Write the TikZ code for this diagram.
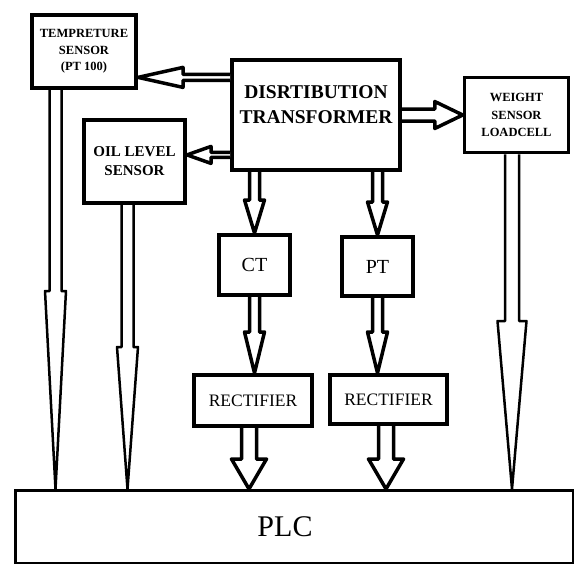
\documentclass[tikz,border=0pt]{standalone}
\usepackage{fontspec}
\setmainfont{Liberation Serif}
\usetikzlibrary{calc}

\tikzset{
  box/.style={draw, line width=4pt, inner sep=0pt, align=center},
  hollow/.style n args={4}{draw, fill=white, line width=#4, line join=round,
    to path={($(\tikztostart)!#1!90:(\tikztotarget)$)
      -- ($(\tikztotarget)!#3!(\tikztostart)!#1!90:(\tikztotarget)$)
      -- ($(\tikztotarget)!#3!(\tikztostart)!#2!90:(\tikztotarget)$)
      -- (\tikztotarget)
      -- ($(\tikztotarget)!#3!(\tikztostart)!#2!-90:(\tikztotarget)$)
      -- ($(\tikztotarget)!#3!(\tikztostart)!#1!-90:(\tikztotarget)$)
      -- ($(\tikztostart)!#1!-90:(\tikztotarget)$)}},
}

\begin{document}
\begin{tikzpicture}[x=1pt, y=-1pt]
\useasboundingbox (0,0) rectangle (576,565);
\node[box, minimum width=104pt, minimum height=73pt, font=\bfseries\fontsize{12.5}{16.5}\selectfont]
  (temp) at (84,51.5) {TEMPRETURE\\SENSOR\\(PT 100)};
\node[box, minimum width=168pt, minimum height=110pt,
  label={[yshift=10.5pt, align=center, font=\bfseries\fontsize{19.5}{25}\selectfont]center:DISRTIBUTION\\TRANSFORMER}]
  (dt) at (316,115) {};
\node[box, minimum width=101pt, minimum height=83pt, font=\bfseries\fontsize{15}{19}\selectfont]
  (oil) at (134.5,161.5) {OIL LEVEL\\SENSOR};
\node[box, line width=3.5pt, minimum width=104pt, minimum height=75pt, font=\bfseries\fontsize{12.5}{17.5}\selectfont]
  (weight) at (516.5,115) {WEIGHT\\SENSOR\\LOADCELL};
\node[box, minimum width=71pt, minimum height=60pt, font=\fontsize{20}{22}\selectfont]
  (ct) at (254.5,265) {CT};
\node[box, minimum width=71pt, minimum height=59pt, font=\fontsize{20}{22}\selectfont]
  (pt) at (377.5,266.5) {PT};
\node[box, minimum width=118pt, minimum height=51pt, font=\fontsize{17.5}{20}\selectfont]
  (rect1) at (253,400.5) {RECTIFIER};
\node[box, minimum width=117pt, minimum height=49pt, font=\fontsize{17.5}{20}\selectfont]
  (rect2) at (388.5,399.5) {RECTIFIER};
\node[box, line width=2.5pt, minimum width=557.5pt, minimum height=72.5pt,
  label={[xshift=-9pt, font=\fontsize{30}{34}\selectfont]center:PLC}]
  (plc) at (294,526.5) {};

\coordinate (d1) at ($(dt.north west)!0.17!(dt.south west)$);
\coordinate (d2) at ($(dt.north west)!0.85!(dt.south west)$);
\coordinate (t1) at ([xshift=-28.5pt]temp.south);
\coordinate (o1) at ([xshift=-7pt]oil.south);
\coordinate (w1) at ([xshift=-4.5pt]weight.south);
\coordinate (r1) at ([xshift=-4pt]rect1.south);
\coordinate (r2) at ([xshift=-2.5pt]rect2.south);

\draw[hollow={3pt}{10pt}{45pt}{3.5pt}] (d1) to (d1 -| temp.east);
\draw[hollow={2.5pt}{8.5pt}{24pt}{3.5pt}] (d2) to (d2 -| oil.east);
\draw[hollow={6pt}{13.5pt}{28pt}{3.5pt}] (dt.east) to (weight.west);
\draw[hollow={5pt}{10pt}{33pt}{3.5pt}] (dt.south -| ct.north) to (ct.north);
\draw[hollow={5pt}{10pt}{33pt}{3.5pt}] (dt.south -| pt.north) to (pt.north);
\draw[hollow={5pt}{10pt}{41pt}{3.5pt}] (ct.south) to (ct.south |- rect1.north);
\draw[hollow={5pt}{10pt}{41pt}{3.5pt}] (pt.south) to (pt.south |- rect2.north);
\draw[hollow={7.5pt}{17.5pt}{30pt}{3.5pt}] (r1) to (r1 |- plc.north);
\draw[hollow={7.5pt}{17.5pt}{30pt}{3.5pt}] (r2) to (r2 |- plc.north);
\draw[hollow={6pt}{10.5pt}{198pt}{2.5pt}] (t1) to (t1 |- plc.north);
\draw[hollow={6pt}{10.5pt}{142pt}{2.5pt}] (o1) to (o1 |- plc.north);
\draw[hollow={7pt}{14.5pt}{168pt}{2.5pt}] (w1) to (w1 |- plc.north);
\end{tikzpicture}
\end{document}
